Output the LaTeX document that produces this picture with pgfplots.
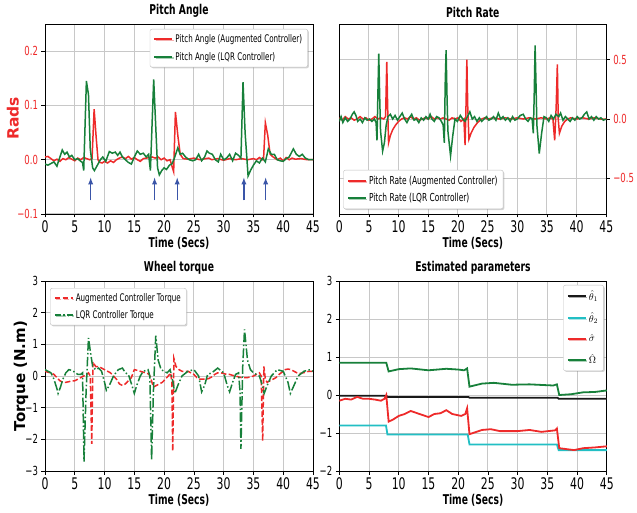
\documentclass[border=0pt]{standalone}
\usepackage{pgfplots}
\pgfplotsset{compat=1.18}
\usepackage{fontspec}
\setmainfont{DejaVu Sans}[FakeStretch=0.68]
\newfontfamily\rotfont{DejaVu Sans}
\usetikzlibrary{shadows}
\definecolor{cr}{HTML}{EE2A2A}
\definecolor{cg}{HTML}{17803A}
\definecolor{cc}{HTML}{22BFC4}
\definecolor{carrow}{HTML}{3A55A8}
\definecolor{gridc}{HTML}{C8C8C8}
\pgfplotsset{
  base/.style={
    scale only axis, width=268pt, height=190pt,
    xmin=0, xmax=45, xtick={0,5,...,45},
    grid=major, major grid style={gridc, line width=1pt},
    axis line style={black, line width=0.7pt},
    tick align=outside, major tick length=3.5pt,
    tick style={black, line width=0.7pt},
    xtick pos=left,
    /pgf/number format/assume math mode=true,
    xticklabel style={font=\fontsize{16}{16}\selectfont},
    yticklabel style={font=\fontsize{12.5}{13}\selectfont},
    title style={font=\bfseries\fontsize{13.5}{14}\selectfont, yshift=-3pt},
    xlabel={Time (Secs)},
    xlabel style={font=\bfseries\fontsize{13.5}{14}\selectfont, yshift=3pt},
    legend cell align=left,
    legend style={draw=gray!50, fill=white, rounded corners=2pt,
      font=\fontsize{10.5}{12}\selectfont, inner sep=3.5pt, row sep=4pt,
      drop shadow={shadow xshift=1.2pt, shadow yshift=-1.2pt, opacity=0.35}},
  }
}
\begin{document}
\begin{tikzpicture}
\path[use as bounding box] (0,0) rectangle (637pt,512pt);
% ---------------- Pitch Angle ----------------
\begin{axis}[base, at={(45pt,298pt)}, anchor=south west,
  title={Pitch Angle},
  ymin=-0.1, ymax=0.25, ytick={-0.1,0,0.1,0.2},
  yticklabels={−0.1,0.0,0.1,0.2}, ytick pos=left,
  yticklabel style={text=cr},
  ylabel={Rads},
  ylabel style={at={(axis description cs:-0.12,0.503)}, anchor=center,
    font=\rotfont\bfseries\fontsize{15.5}{16}\selectfont, text=cr},
  legend style={at={(0.981,0.974)}, anchor=north east},
]
\addplot[cr, line width=1.5pt, legend image code/.code={\draw[cr, line width=2pt] (0pt,0pt) -- (18pt,0pt);}] coordinates {
(0,0.005)(0.5,0.006)(1,0.002)(1.5,-0.002)(2,0.001)(2.5,-0.003)(3,0.002)(3.5,0.0)(4,0.004)(4.5,0.001)(5,-0.002)(5.5,0.003)(6,0.0)(6.5,0.004)(7,0.002)(7.5,0.0)(7.9,0.002)(8.25,0.093)(8.6,0.04)(8.9,0.0)(9.2,-0.005)(9.6,-0.006)(10,-0.003)(10.5,-0.006)(11,-0.002)(11.5,-0.005)(12,0.0)(12.5,0.003)(13,0.005)(13.5,0.002)(14,0.006)(14.5,0.001)(15,0.004)(15.5,0.0)(16,-0.003)(16.5,0.002)(17,0.003)(17.5,0.004)(18,0.005)(18.5,0.003)(19,0.005)(19.5,0.0)(20,0.003)(20.5,-0.002)(21,0.0)(21.4,-0.015)(21.6,-0.022)(21.9,0.088)(22.3,0.045)(22.7,0.01)(23.2,0.002)(24,0.001)(25,0.003)(26,0.0)(27,0.002)(27.5,0.003)(28,0.0)(29,0.002)(30,-0.001)(31,0.002)(32,0.0)(33,0.002)(34,0.0)(35,0.002)(35.5,0.0)(36,0.004)(36.5,0.0)(36.7,0.002)(37.0,0.068)(37.4,0.045)(37.8,0.01)(38.3,0.005)(39,0.0)(39.5,0.003)(40,-0.002)(40.5,0.004)(41,0.0)(41.5,0.003)(42,0.001)(43,0.002)(44,0.0)(45,0.0)
};
\addlegendentry{Pitch Angle (Augmented Controller)}
\addplot[cg, line width=1.5pt, legend image code/.code={\draw[cg, line width=2pt] (0pt,0pt) -- (18pt,0pt);}] coordinates {
(0,-0.008)(0.5,-0.01)(1,-0.007)(1.5,-0.004)(2,-0.012)(2.5,0.005)(2.9,0.018)(3.3,0.01)(3.7,0.014)(4.1,0.005)(4.5,0.008)(5,0.0)(5.5,0.002)(6,-0.003)(6.3,-0.005)(6.5,-0.02)(6.95,0.145)(7.3,0.12)(7.6,0.02)(8.0,-0.015)(8.3,-0.02)(8.8,-0.01)(9.3,0.0)(9.7,0.005)(10.2,-0.003)(10.8,0.015)(11.3,0.012)(11.8,0.014)(12.2,0.008)(12.6,0.014)(13.0,0.005)(13.5,0.0)(14,-0.005)(14.5,-0.008)(15,0.005)(15.5,0.016)(16,0.01)(16.5,0.012)(17,0.005)(17.4,0.01)(17.7,-0.02)(18.25,0.148)(18.6,0.06)(18.9,-0.015)(19.2,-0.028)(19.6,-0.02)(20,-0.015)(20.4,-0.018)(20.9,-0.01)(21.3,-0.008)(21.7,0.002)(22.3,0.022)(22.7,0.01)(23.1,0.012)(23.6,0.005)(24.2,0.0)(24.8,-0.002)(25.3,0.0)(25.8,0.01)(26.3,-0.002)(26.8,0.005)(27.2,0.016)(27.6,0.012)(28.1,0.01)(28.6,0.0)(29.1,-0.004)(29.5,0.01)(30,0.0)(30.5,0.003)(31,0.01)(31.5,-0.002)(32,0.012)(32.5,0.008)(32.9,0.003)(33.25,0.143)(33.6,0.05)(34.1,-0.03)(34.5,-0.02)(35,-0.01)(35.5,-0.002)(36,-0.006)(36.5,0.003)(37,-0.004)(37.5,0.02)(38,0.01)(38.5,0.01)(39,0.0)(39.5,-0.002)(40,-0.003)(40.5,0.002)(41,0.005)(41.7,0.02)(42.2,0.01)(42.7,0.006)(43.2,0.01)(43.7,0.003)(44.3,0.0)(45,0.0)
};
\addlegendentry{Pitch Angle (LQR Controller)}
\addplot[carrow, line width=1.3pt, -latex, forget plot] coordinates {(7.67,-0.075)(7.67,-0.033)};
\addplot[carrow, line width=1.3pt, -latex, forget plot] coordinates {(18.4,-0.075)(18.4,-0.033)};
\addplot[carrow, line width=1.3pt, -latex, forget plot] coordinates {(22.2,-0.075)(22.2,-0.033)};
\addplot[carrow, line width=1.3pt, -latex, forget plot] coordinates {(33.4,-0.075)(33.4,-0.033)};
\addplot[carrow, line width=1.3pt, -latex, forget plot] coordinates {(37.05,-0.075)(37.05,-0.033)};
\end{axis}
% ---------------- Pitch Rate ----------------
\begin{axis}[base, at={(339.3pt,298pt)}, anchor=south west, width=267pt,
  title={Pitch Rate},
  ymin=-0.8, ymax=0.8, ytick={-0.5,0,0.5},
  yticklabels={−0.5,0.0,0.5}, ytick pos=right,
  yticklabel style={text=cr},
  legend style={at={(0.015,0.026)}, anchor=south west, font=\fontsize{11}{12}\selectfont},
]
\addplot[cr, line width=1.5pt, legend image code/.code={\draw[cr, line width=2pt] (0pt,0pt) -- (18pt,0pt);}] coordinates {
(0,0.01)(0.5,-0.01)(1,0.02)(1.5,0.0)(2,0.01)(2.5,-0.01)(3,0.0)(3.5,0.02)(4,0.0)(4.5,0.01)(5,-0.01)(5.5,0.0)(6,0.02)(6.5,0.0)(7,0.01)(7.5,0.0)(7.8,0.02)(8.0,0.48)(8.15,0.1)(8.3,-0.2)(8.6,-0.14)(9,-0.09)(9.5,-0.05)(10,-0.02)(10.5,0.0)(11,0.01)(11.5,0.0)(12,0.02)(12.5,0.0)(13,0.01)(13.5,-0.01)(14,0.0)(14.5,0.01)(15,0.0)(15.5,0.02)(16,0.0)(16.5,0.01)(17,0.0)(17.5,0.01)(18,0.0)(18.5,-0.01)(19,0.01)(19.5,0.0)(20,0.01)(20.5,-0.02)(21,0.0)(21.2,-0.22)(21.35,0.1)(21.5,0.5)(21.65,0.1)(21.85,-0.17)(22.2,-0.12)(22.7,-0.07)(23.3,-0.03)(24,0.0)(24.5,0.01)(25,0.0)(26,0.01)(27,0.0)(28,0.01)(29,0.0)(30,0.01)(31,0.0)(32,0.01)(33,0.0)(34,0.01)(35,0.0)(35.5,0.01)(36,0.0)(36.3,-0.18)(36.55,0.1)(36.75,0.46)(36.9,0.0)(37.1,-0.12)(37.5,-0.06)(38,-0.02)(38.5,0.0)(39,0.01)(40,0.0)(41,0.01)(42,0.0)(43,0.01)(44,0.0)(45,0.0)
};
\addlegendentry{Pitch Rate (Augmented Controller)}
\addplot[cg, line width=1.5pt, legend image code/.code={\draw[cg, line width=2pt] (0pt,0pt) -- (18pt,0pt);}] coordinates {
(0,-0.02)(0.3,0.02)(0.6,-0.03)(1,0.01)(1.4,-0.02)(1.8,0.0)(2.2,0.04)(2.5,0.06)(2.8,0.03)(3.1,-0.02)(3.5,0.0)(3.9,-0.03)(4.3,0.01)(4.7,-0.01)(5.1,0.0)(5.5,-0.02)(5.9,0.0)(6.2,-0.03)(6.35,-0.18)(6.5,0.2)(6.65,0.55)(6.8,0.2)(6.95,-0.1)(7.3,-0.27)(7.6,-0.2)(7.9,-0.05)(8.2,0.02)(8.6,0.04)(9,0.0)(9.4,0.03)(9.8,-0.01)(10.2,0.02)(10.6,0.05)(11,0.0)(11.4,-0.03)(11.8,0.01)(12.2,0.04)(12.6,-0.01)(13,0.0)(13.4,-0.03)(13.8,0.01)(14.2,-0.01)(14.6,0.02)(15.0,0.0)(15.3,0.04)(15.6,0.0)(16,-0.02)(16.4,0.02)(16.8,0.01)(17.2,-0.02)(17.5,-0.05)(17.7,-0.2)(17.85,0.3)(18.0,0.58)(18.15,0.2)(18.3,-0.1)(18.75,-0.31)(19.1,-0.15)(19.5,0.0)(19.9,-0.02)(20.4,0.03)(20.8,0.0)(21.2,-0.02)(21.6,0.02)(22.0,0.06)(22.4,0.0)(22.8,0.02)(23.2,-0.02)(23.6,0.01)(24.0,-0.02)(24.4,0.0)(24.8,0.02)(25.2,-0.01)(25.6,0.0)(26,0.02)(26.4,-0.01)(26.8,0.05)(27.2,0.0)(27.6,0.02)(28,-0.01)(28.4,0.01)(28.8,-0.02)(29.2,0.02)(29.6,-0.01)(30,0.0)(30.5,0.03)(31,0.04)(31.4,0.0)(31.8,-0.02)(32.2,0.01)(32.5,0.0)(32.7,-0.12)(32.85,0.2)(33.0,0.62)(33.15,0.3)(33.3,-0.05)(33.7,-0.29)(34.1,-0.12)(34.5,0.02)(34.9,0.01)(35.3,-0.02)(35.7,0.03)(36.1,0.0)(36.5,0.04)(37,0.02)(37.3,0.05)(37.7,-0.01)(38.1,0.02)(38.5,0.0)(38.9,-0.02)(39.3,0.01)(39.7,-0.01)(40.1,0.02)(40.5,0.0)(40.9,0.01)(41.3,0.04)(41.7,0.06)(42.1,0.0)(42.5,0.02)(42.9,-0.01)(43.3,0.02)(43.7,0.0)(44.1,0.01)(44.5,-0.01)(45,0.0)
};
\addlegendentry{Pitch Rate (LQR Controller)}
\end{axis}
% ---------------- Wheel torque ----------------
\begin{axis}[base, at={(45pt,41pt)}, anchor=south west,
  title={Wheel torque},
  ymin=-3, ymax=3, ytick={-3,-2,...,3},
  yticklabels={−3,−2,−1,0,1,2,3}, ytick pos=left,
  ylabel={Torque (N.m)},
  ylabel style={at={(axis description cs:-0.09,0.5)}, anchor=center,
    font=\rotfont\bfseries\fontsize{15}{16}\selectfont},
  legend style={at={(0.019,0.963)}, anchor=north west, row sep=3pt},
]
\addplot[cr, line width=1.5pt, dash pattern=on 5.5pt off 2.4pt, legend image code/.code={\draw[cr, line width=2pt, dash pattern=on 5.5pt off 2.4pt] (0pt,0pt) -- (18pt,0pt);}] coordinates {
(0,0.15)(0.5,0.12)(1,0.1)(1.5,0.05)(2,-0.05)(2.5,-0.15)(3,-0.2)(3.5,-0.2)(4,-0.18)(4.5,-0.15)(5,-0.15)(5.5,-0.1)(6,-0.05)(6.5,0.0)(7,0.05)(7.3,0.1)(7.6,0.0)(7.85,-2.14)(8.05,0.45)(8.5,0.3)(9,0.3)(9.5,0.25)(10,0.2)(10.5,0.15)(11,0.1)(11.5,0.0)(12,-0.1)(12.5,-0.25)(13,-0.3)(13.5,-0.25)(14,-0.15)(14.5,-0.05)(15,0.2)(15.5,0.18)(16,0.15)(16.5,0.12)(17,0.1)(17.5,0.05)(17.8,-0.1)(18.2,-0.35)(18.7,-0.3)(19.2,-0.25)(19.7,-0.2)(20.2,-0.1)(20.7,0.0)(21.1,0.1)(21.3,-0.2)(21.45,-2.37)(21.65,0.55)(22,0.3)(22.5,0.2)(23,0.15)(23.5,0.15)(24,0.15)(24.5,0.1)(25,0.05)(25.5,-0.05)(26,-0.1)(26.5,-0.1)(27,-0.1)(27.5,-0.08)(28,-0.03)(28.5,0.05)(29,0.1)(29.5,0.1)(30,0.08)(30.5,0.05)(31,0.05)(31.5,0.02)(32,0.0)(32.5,-0.03)(33,-0.05)(33.5,-0.05)(34,-0.05)(34.5,-0.03)(35,0.0)(35.5,0.05)(36,0.1)(36.3,0.0)(36.55,-2.05)(36.75,0.3)(37,-0.1)(37.3,-0.2)(37.8,-0.15)(38.3,-0.1)(38.8,-0.05)(39.3,0.05)(39.8,0.12)(40.3,0.2)(40.8,0.22)(41.3,0.2)(41.8,0.15)(42.3,0.1)(42.8,0.08)(43.3,0.1)(43.8,0.12)(44.3,0.15)(45,0.15)
};
\addlegendentry{Augmented Controller Torque}
\addplot[cg, line width=1.5pt, dash pattern=on 9.6pt off 2.4pt on 1.5pt off 2.4pt, legend image code/.code={\draw[cg, line width=2pt, dash pattern=on 6pt off 2.4pt on 1.5pt off 2.4pt] (0pt,0pt) -- (18pt,0pt);}] coordinates {
(0,0.2)(0.5,0.15)(1,0.1)(1.5,-0.1)(2,-0.4)(2.2,-0.55)(2.6,-0.35)(3,-0.1)(3.5,0.1)(4,0.2)(4.5,0.18)(5,0.12)(5.5,0.05)(6,0.05)(6.3,0.1)(6.55,-2.7)(6.9,-0.5)(7.3,1.2)(7.6,0.8)(8,0.3)(8.5,0.2)(9,0.25)(9.5,0.15)(10,-0.2)(10.3,-0.45)(10.8,-0.3)(11.5,0.0)(12.3,0.2)(13,0.25)(13.5,0.1)(14,0.05)(14.6,-0.3)(15,-0.55)(15.4,-0.3)(16,0.0)(16.5,0.15)(17.3,0.2)(17.6,0.0)(17.9,-2.65)(18.2,-0.5)(18.6,1.27)(19,0.5)(19.5,0.2)(20,0.15)(20.5,0.1)(21,0.2)(21.5,-0.2)(21.8,-0.55)(22.3,-0.3)(23,0.0)(24,0.15)(25,0.2)(25.8,0.0)(26.3,-0.5)(26.8,-0.3)(27.3,0.05)(28,0.1)(29,0.25)(30,0.1)(30.6,-0.3)(31,-0.5)(31.5,-0.2)(32,0.05)(32.5,0.1)(32.75,-0.5)(32.9,-2.3)(33.2,0.3)(33.5,1.47)(34,0.5)(34.5,0.2)(35,0.1)(36,0.0)(36.5,-0.3)(36.8,-0.55)(37.3,-0.3)(38,0.0)(39,0.2)(40,0.15)(40.8,-0.2)(41.2,-0.55)(41.8,-0.3)(42.5,0.0)(43.5,0.15)(44.5,0.2)(45,0.15)
};
\addlegendentry{LQR Controller Torque}
\end{axis}
% ---------------- Estimated parameters ----------------
\begin{axis}[base, at={(339.3pt,41pt)}, anchor=south west, width=267.5pt,
  title={Estimated parameters},
  ymin=-2, ymax=3, ytick={-2,-1,...,3},
  yticklabels={−2,−1,0,1,2,3}, ytick pos=left,
  legend style={at={(0.989,0.979)}, anchor=north east, row sep=7pt,
    font=\fontsize{10}{11}\selectfont},
]
\addplot[black!90, line width=1.8pt, legend image code/.code={\draw[black!90, line width=2pt] (0pt,0pt) -- (18pt,0pt);}] coordinates {
(0,-0.02)(7.9,-0.02)(8.1,-0.05)(21.7,-0.05)(21.9,-0.07)(36.7,-0.07)(36.9,-0.1)(45,-0.1)
};
\addlegendentry{$\hat{\theta}_1$}
\addplot[cc, line width=1.8pt, legend image code/.code={\draw[cc, line width=2pt] (0pt,0pt) -- (18pt,0pt);}] coordinates {
(0,-0.8)(7.85,-0.8)(8.1,-1.04)(21.6,-1.04)(21.9,-1.3)(36.6,-1.3)(36.9,-1.45)(45,-1.45)
};
\addlegendentry{$\hat{\theta}_2$}
\addplot[cr, line width=1.8pt, legend image code/.code={\draw[cr, line width=2pt] (0pt,0pt) -- (18pt,0pt);}] coordinates {
(0,-0.15)(1,-0.1)(2,-0.12)(3,-0.05)(4,-0.1)(5,-0.1)(6,-0.12)(7,-0.15)(7.6,-0.1)(7.9,0.0)(8.3,-0.7)(9,-0.65)(10,-0.55)(11,-0.5)(12,-0.42)(13.5,-0.5)(15,-0.58)(16,-0.5)(17,-0.48)(18,-0.4)(19,-0.5)(20.5,-0.55)(21.2,-0.5)(21.5,-0.35)(21.9,-1.03)(22.5,-1.0)(24,-0.92)(25.5,-0.9)(27,-0.95)(30,-0.95)(32,-0.92)(34,-0.97)(36.3,-0.93)(36.6,-0.88)(37,-1.4)(38,-1.42)(39.5,-1.45)(41,-1.4)(43,-1.38)(45,-1.35)
};
\addlegendentry{$\hat{\sigma}$}
\addplot[cg, line width=1.8pt, legend image code/.code={\draw[cg, line width=2pt] (0pt,0pt) -- (18pt,0pt);}] coordinates {
(0,0.85)(7.9,0.85)(8.3,0.62)(10,0.68)(12,0.7)(15,0.65)(18,0.69)(20,0.67)(21,0.65)(21.5,0.7)(21.9,0.22)(24,0.3)(26,0.32)(29,0.27)(32,0.28)(36,0.25)(36.6,0.28)(37,0.0)(39,0.02)(41,0.07)(43,0.08)(45,0.12)
};
\addlegendentry{$\hat{\Omega}$}
\end{axis}
\end{tikzpicture}
\end{document}
